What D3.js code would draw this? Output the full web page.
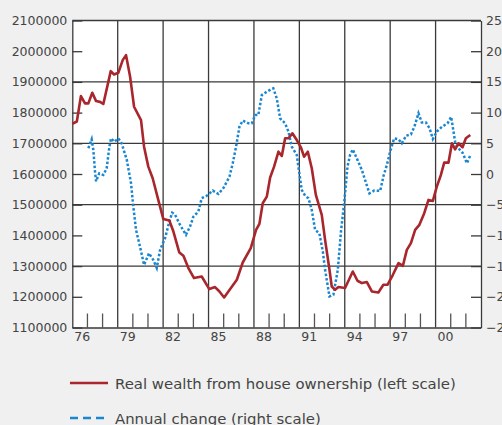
<!DOCTYPE html>
<html>
<head>
<meta charset="utf-8">
<script src="https://cdn.jsdelivr.net/npm/d3@7/dist/d3.min.js"></script>
<style>
  html, body { margin: 0; padding: 0; background: #eff0ef; }
  svg { display: block; }
  text { font-family: "DejaVu Sans", sans-serif; fill: #444; }
</style>
</head>
<body>
<svg id="chart" width="502" height="425"></svg>
<script>
// Real wealth from house ownership (left scale), by decimal year
const wealthYears = [1976.0,1976.3,1976.57,1976.84,1977.06,1977.32,1977.57,1977.83,1978.05,1978.54,1978.76,1979.04,1979.33,1979.55,1979.82,1980.08,1980.54,1980.74,1981.02,1981.31,1981.68,1982.01,1982.41,1982.68,1983.07,1983.34,1983.67,1984.04,1984.55,1985.05,1985.43,1985.72,1986.03,1986.43,1986.87,1987.26,1987.79,1988.14,1988.36,1988.58,1988.85,1989.07,1989.33,1989.62,1989.84,1990.06,1990.28,1990.54,1990.83,1991.10,1991.31,1991.56,1991.82,1992.09,1992.48,1992.70,1992.99,1993.14,1993.36,1993.58,1994.02,1994.53,1994.84,1995.13,1995.46,1995.79,1996.22,1996.55,1996.82,1997.18,1997.55,1997.84,1998.10,1998.37,1998.65,1998.93,1999.25,1999.53,1999.82,2000.08,2000.35,2000.57,2000.85,2001.08,2001.29,2001.51,2001.78,2002.00,2002.29];
const wealthValues = [1763000,1771000,1854000,1830000,1830000,1864500,1837500,1835000,1828000,1935000,1924000,1929600,1970900,1987200,1916600,1819000,1775800,1689000,1624000,1586200,1515600,1453800,1448300,1412500,1344200,1333500,1293500,1261000,1266200,1225200,1231700,1217400,1197900,1225200,1255500,1311700,1358500,1418000,1437600,1504900,1526300,1588800,1624000,1672700,1658700,1716300,1716300,1732500,1710700,1687000,1656400,1672700,1618700,1531900,1466800,1385500,1288000,1233700,1222900,1231700,1228500,1282400,1252200,1244700,1248000,1217400,1214200,1239200,1239200,1271700,1309800,1301000,1353000,1374800,1418000,1434300,1472400,1515600,1512300,1558900,1596900,1636900,1636900,1700000,1680500,1700000,1687000,1716300,1727000];

// Annual change, per cent (right scale)
const changeYears = [1977.06,1977.28,1977.39,1977.50,1977.57,1977.78,1978.05,1978.27,1978.45,1978.56,1978.78,1979.04,1979.26,1979.60,1979.88,1980.03,1980.21,1980.47,1980.74,1981.07,1981.35,1981.58,1981.80,1982.13,1982.41,1982.60,1982.79,1983.12,1983.51,1983.78,1984.00,1984.33,1984.55,1984.88,1985.28,1985.65,1985.98,1986.38,1986.60,1986.82,1987.04,1987.26,1987.63,1987.86,1988.08,1988.29,1988.52,1988.85,1989.18,1989.28,1989.51,1989.73,1990.06,1990.28,1990.50,1990.83,1991.00,1991.16,1991.38,1991.60,1991.82,1992.04,1992.32,1992.55,1992.70,1992.99,1993.25,1993.54,1993.76,1993.96,1994.18,1994.35,1994.53,1994.84,1995.13,1995.41,1995.63,1995.94,1996.34,1996.56,1996.78,1997.00,1997.26,1997.55,1997.77,1998.06,1998.37,1998.60,1998.87,1999.09,1999.36,1999.60,1999.82,2000.08,2000.42,2000.79,2001.03,2001.30,2001.51,2001.80,2002.07,2002.28];
const changeValues = [4.2,5.65,3.9,0.4,-1.2,0.1,-0.15,0.9,4.45,5.8,5.25,5.8,5.0,2.3,-1.5,-5.3,-9.1,-11.8,-14.8,-12.9,-14.0,-15.3,-12.35,-10.45,-7.75,-6.3,-6.65,-8.3,-9.9,-8.55,-6.95,-6.1,-3.95,-3.55,-2.7,-3.25,-2.3,-0.45,1.75,4.45,7.7,8.7,8.25,8.25,9.6,9.6,12.85,13.4,13.85,13.95,12.3,9.05,8.25,6.9,4.45,3.1,0.1,-2.6,-3.55,-3.95,-5.85,-9.1,-9.65,-12.6,-15.6,-19.95,-19.65,-15.6,-9.1,-4.75,1.2,3.1,4.0,2.3,0.65,-1.5,-3.15,-2.7,-2.75,-0.3,1.45,3.65,5.8,5.65,5.0,6.25,6.45,7.7,9.9,8.4,8.4,7.45,5.7,6.9,7.7,8.25,9.3,5.1,4.2,3.4,1.75,2.95];

// Axis ticks and labels
const leftTicks = [1100000,1200000,1300000,1400000,1500000,1600000,1700000,1800000,1900000,2000000,2100000];
const leftGrid = [1300000,1500000,1700000,1900000];
const rightTicks = [-25,-20,-15,-10,-5,0,5,10,15,20,25];
const labelYears = [1976,1979,1982,1985,1988,1991,1994,1997,2000];
const yearLabels = ["76","79","82","85","88","91","94","97","00"];
const minorYears = [1977,1978,1980,1981,1983,1984,1986,1987,1989,1990,1992,1993,1995,1996,1998,1999,2001,2002];
const legendLabels = ["Real wealth from house ownership (left scale)", "Annual change (right scale)"];

const RED = "#a8262c";
const BLUE = "#1a86d0";
const GRID = "#3a3a3a";

const svg = d3.select("#chart");
const plotLeft = 72.3, plotRight = 481, plotTop = 20.5, plotBottom = 327.5;

const x = d3.scaleLinear().domain([1976, 2003]).range([plotLeft, plotRight]);
const yL = d3.scaleLinear().domain([1100000, 2100000]).range([plotBottom, plotTop]);
const yR = d3.scaleLinear().domain([-25, 25]).range([plotBottom, plotTop]);

// plot background
svg.append("rect").attr("x", plotLeft).attr("y", plotTop)
  .attr("width", plotRight - plotLeft).attr("height", plotBottom - plotTop).attr("fill", "#fff");

// horizontal grid lines
svg.append("g").selectAll("line").data(leftGrid).join("line")
  .attr("x1", plotLeft).attr("x2", plotRight)
  .attr("y1", d => yL(d)).attr("y2", d => yL(d))
  .attr("stroke", GRID).attr("stroke-width", 1.3);

// vertical grid lines every three years
svg.append("g").selectAll("line").data(labelYears.slice(1)).join("line")
  .attr("x1", d => x(d)).attr("x2", d => x(d))
  .attr("y1", plotTop).attr("y2", plotBottom)
  .attr("stroke", GRID).attr("stroke-width", 1.3);

// minor yearly ticks rising from the bottom axis
svg.append("g").selectAll("line").data(minorYears).join("line")
  .attr("x1", d => x(d)).attr("x2", d => x(d))
  .attr("y1", plotBottom - 14).attr("y2", plotBottom)
  .attr("stroke", "#555").attr("stroke-width", 1.3);

// top border
svg.append("line").attr("x1", plotLeft).attr("x2", plotRight).attr("y1", plotTop).attr("y2", plotTop)
  .attr("stroke", GRID).attr("stroke-width", 1.3);

// left axis
const gL = svg.append("g").attr("transform", `translate(${plotLeft},0)`)
  .call(d3.axisLeft(yL).tickValues(leftTicks).tickFormat(d3.format("d"))
    .tickSizeInner(-10).tickSizeOuter(0).tickPadding(5));
// right axis
const gR = svg.append("g").attr("transform", `translate(${plotRight},0)`)
  .call(d3.axisRight(yR).tickValues(rightTicks).tickFormat(d3.format("d"))
    .tickSizeInner(-10).tickSizeOuter(0).tickPadding(5));
// bottom axis
const gB = svg.append("g").attr("transform", `translate(0,${plotBottom})`)
  .call(d3.axisBottom(x).tickValues(labelYears).tickFormat((d, i) => yearLabels[i])
    .tickSize(0).tickPadding(5));

[gL, gR, gB].forEach(g => {
  g.selectAll(".domain").attr("stroke", GRID).attr("stroke-width", 1.3);
  g.selectAll(".tick line").attr("stroke", GRID).attr("stroke-width", 1.3);
  g.selectAll("text").attr("font-family", "DejaVu Sans").attr("font-size", 12.5).attr("fill", "#444");
});
gB.selectAll("text").attr("text-anchor", "start").attr("dx", 1.5);

// data lines
const wealth = wealthYears.map((t, i) => [t, wealthValues[i]]);
const change = changeYears.map((t, i) => [t, changeValues[i]]);

svg.append("path").datum(change)
  .attr("d", d3.line().x(d => x(d[0])).y(d => yR(d[1])))
  .attr("fill", "none").attr("stroke", BLUE).attr("stroke-width", 2.5)
  .attr("stroke-dasharray", "2.5,2");

svg.append("path").datum(wealth)
  .attr("d", d3.line().x(d => x(d[0])).y(d => yL(d[1])))
  .attr("fill", "none").attr("stroke", RED).attr("stroke-width", 2.6)
  .attr("stroke-linejoin", "round");

// legend
const legend = svg.append("g");
legend.append("line").attr("x1", 70).attr("x2", 108).attr("y1", 383).attr("y2", 383)
  .attr("stroke", RED).attr("stroke-width", 2.6);
legend.append("line").attr("x1", 70).attr("x2", 108).attr("y1", 418).attr("y2", 418)
  .attr("stroke", BLUE).attr("stroke-width", 2.6).attr("stroke-dasharray", "8,5");
legend.selectAll("text").data(legendLabels).join("text")
  .attr("x", 115).attr("y", (d, i) => 389 + i * 35)
  .attr("font-size", 14.9)
  .text(d => d);
</script>
</body>
</html>
